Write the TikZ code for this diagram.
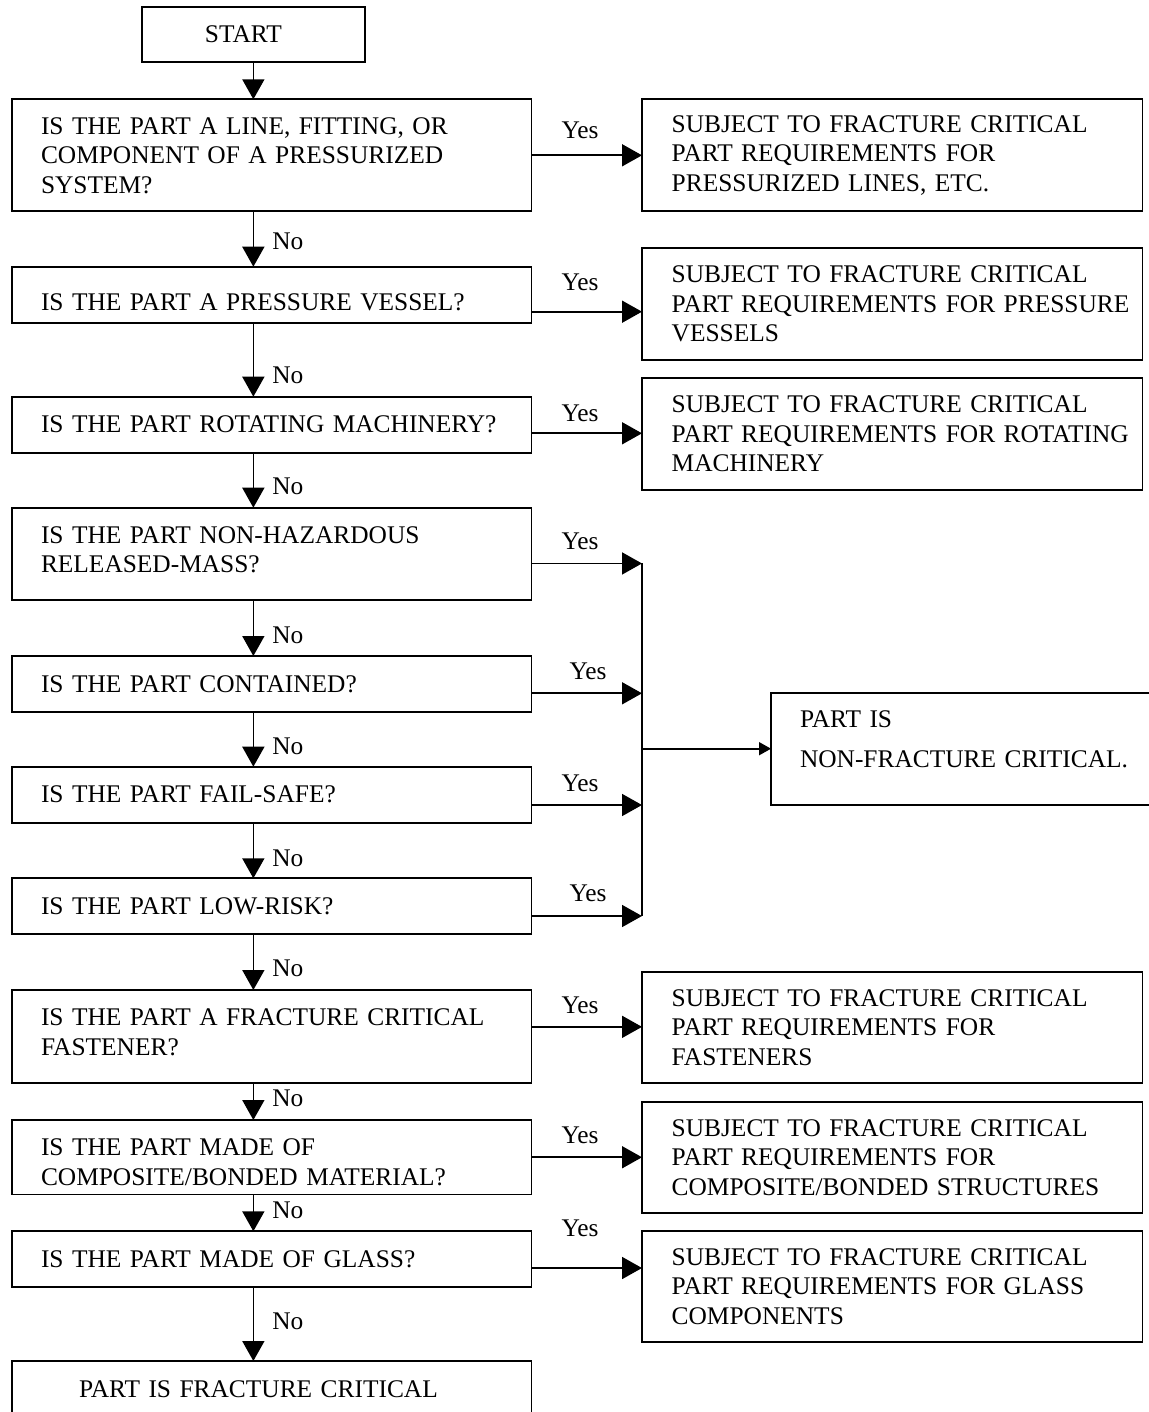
\documentclass[tikz,border=0pt]{standalone}
\usepackage{fontspec}
\setmainfont{Liberation Serif}
\usetikzlibrary{arrows.meta,positioning}
\newcommand{\nudge}[2]{\raisebox{#1}[\height][\depth]{#2}}

\begin{document}
\begin{tikzpicture}[x=0.5pt, y=-0.5pt,
  txt/.style={font=\fontsize{12.7pt}{14.75pt}\selectfont},
  base/.style={txt, draw, line width=0.85pt, anchor=north west, inner sep=0pt, outer sep=0pt},
  ask/.style={base, align=left, text width=259.75pt, minimum height=#1,
    execute at begin node={\leftskip=14.5pt\rightskip=-20pt plus 1fil}},
  res/.style={base, align=left, text width=250.25pt, minimum height=55.75pt,
    execute at begin node={\leftskip=14.85pt\rightskip=-20pt plus 1fil}},
  lbl/.style={txt, inner sep=0pt},
  arr/.style={line width=0.85pt, -{Triangle[length=10pt,width=11pt]}},
  smallarr/.style={line width=0.85pt, -{Triangle[length=6pt,width=6.5pt]}}]
\useasboundingbox (0,0) rectangle (1149,1412);

% questions
\node[base, minimum width=111.65pt, minimum height=27.5pt] (start) at (141.7,6.7) {\hspace*{-10pt}START};
\node[ask=56pt] (q1) at (12,99.3) {IS THE PART A LINE, FITTING, OR\\COMPONENT OF A PRESSURIZED\\SYSTEM?};
\node[ask=28pt] (q2) at (12,266.7) {\nudge{-4pt}{IS THE PART A PRESSURE VESSEL?}};
\node[ask=28pt] (q3) at (12,396.7) {IS THE PART ROTATING MACHINERY?};
\node[ask=46.15pt] (q4) at (12,507.7) {\nudge{2pt}{IS THE PART NON-HAZARDOUS}\\\nudge{2pt}{RELEASED-MASS?}};
\node[ask=28pt] (q5) at (12,656) {IS THE PART CONTAINED?};
\node[ask=28pt] (q6) at (12,766.7) {IS THE PART FAIL-SAFE?};
\node[ask=28pt] (q7) at (12,878.3) {IS THE PART LOW-RISK?};
\node[ask=46.65pt] (q8) at (12,990) {\nudge{2.25pt}{IS THE PART A FRACTURE CRITICAL}\\\nudge{2.25pt}{FASTENER?}};
\node[ask=37.25pt] (q9) at (12,1120) {\nudge{-2.5pt}{IS THE PART MADE OF}\\\nudge{-2.5pt}{COMPOSITE/BONDED MATERIAL?}};
\node[ask=28pt] (q10) at (12,1231.3) {IS THE PART MADE OF GLASS?};
\node[ask=28pt, execute at begin node={\leftskip=33.5pt}] (fc) at (12,1361) {PART IS FRACTURE CRITICAL};

% results
\node[res] (a1) at (642,99.3) {SUBJECT TO FRACTURE CRITICAL\\PART REQUIREMENTS FOR\\PRESSURIZED LINES, ETC.};
\node[res] (a2) at (642,248.3) {SUBJECT TO FRACTURE CRITICAL\\PART REQUIREMENTS FOR PRESSURE\\VESSELS};
\node[res] (a3) at (642,378.3) {SUBJECT TO FRACTURE CRITICAL\\PART REQUIREMENTS FOR ROTATING\\MACHINERY};
\node[res] (a8) at (642,971.7) {SUBJECT TO FRACTURE CRITICAL\\PART REQUIREMENTS FOR\\FASTENERS};
\node[res] (a9) at (642,1101.7) {SUBJECT TO FRACTURE CRITICAL\\PART REQUIREMENTS FOR\\COMPOSITE/BONDED STRUCTURES};
\node[res] (a10) at (642,1230.7) {SUBJECT TO FRACTURE CRITICAL\\PART REQUIREMENTS FOR GLASS\\COMPONENTS};
\node[base, align=left, text width=200pt, minimum height=56pt,
  execute at begin node={\leftskip=14.5pt}] (nfc) at (771,692.7)
  {\nudge{4.5pt}{PART IS}\\[5.25pt]\nudge{4.5pt}{NON-FRACTURE CRITICAL.}};

% labels
\node[lbl] (y1) at (580,130) {Yes};
\node[lbl] (y2) at (580,282.5) {Yes};
\node[lbl] (y3) at (580,413) {Yes};
\node[lbl] (y4) at (580,541.7) {Yes};
\node[lbl] (y5) at (588,671.7) {Yes};
\node[lbl] (y6) at (580,783) {Yes};
\node[lbl] (y7) at (588,893) {Yes};
\node[lbl] (y8) at (580,1005) {Yes};
\node[lbl] (y9) at (580,1135) {Yes};
\node[lbl] (y10) at (580,1228) {Yes};
\node[lbl, anchor=west] (n1) at (272,241) {No};
\node[lbl, anchor=west] (n2) at (272,375.7) {No};
\node[lbl, anchor=west] (n3) at (272,486.7) {No};
\node[lbl, anchor=west] (n4) at (272,635) {No};
\node[lbl, anchor=west] (n5) at (272,746.7) {No};
\node[lbl, anchor=west] (n6) at (272,858) {No};
\node[lbl, anchor=west] (n7) at (272,968) {No};
\node[lbl, anchor=west] (n8) at (272,1098) {No};
\node[lbl, anchor=west] (n9) at (272,1210) {No};
\node[lbl, anchor=west] (n10) at (272,1321.7) {No};

% down the No side
\draw[arr] (start.south) -- (start.south |- q1.north);
\draw[arr] (start.south |- q1.south) -- (start.south |- q2.north);
\draw[arr] (start.south |- q2.south) -- (start.south |- q3.north);
\draw[arr] (start.south |- q3.south) -- (start.south |- q4.north);
\draw[arr] (start.south |- q4.south) -- (start.south |- q5.north);
\draw[arr] (start.south |- q5.south) -- (start.south |- q6.north);
\draw[arr] (start.south |- q6.south) -- (start.south |- q7.north);
\draw[arr] (start.south |- q7.south) -- (start.south |- q8.north);
\draw[arr] (start.south |- q8.south) -- (start.south |- q9.north);
\draw[arr] (start.south |- q9.south) -- (start.south |- q10.north);
\draw[arr] (start.south |- q10.south) -- (start.south |- fc.north);

% Yes side
\coordinate (e2) at ([yshift=-8.5pt]q2.east);
\coordinate (e3) at ([yshift=-4.3pt]q3.east);
\coordinate (e4) at ([yshift=-4.8pt]q4.east);
\coordinate (e5) at ([yshift=-4.65pt]q5.east);
\coordinate (e6) at ([yshift=-5.15pt]q6.east);
\coordinate (e7) at ([yshift=-4.85pt]q7.east);
\coordinate (e8) at ([yshift=4.9pt]q8.east);
\coordinate (e10) at ([yshift=-4.35pt]q10.east);
\draw[arr] (q1.east) -- (q1.east -| a1.west);
\draw[arr] (e2) -- (e2 -| a2.west);
\draw[arr] (e3) -- (e3 -| a3.west);
\draw[arr] (e4) -- (e4 -| a1.west);
\draw[arr] (e5) -- (e5 -| a1.west);
\draw[arr] (e6) -- (e6 -| a1.west);
\draw[arr] (e7) -- (e7 -| a1.west);
\draw[line width=0.85pt] (e4 -| a1.west) -- (e7 -| a1.west);
\draw[smallarr] (nfc.west -| a1.west) -- (nfc.west);
\draw[arr] (e8) -- (e8 -| a8.west);
\draw[arr] (q9.east) -- (q9.east -| a9.west);
\draw[arr] (e10) -- (e10 -| a10.west);
\end{tikzpicture}
\end{document}
